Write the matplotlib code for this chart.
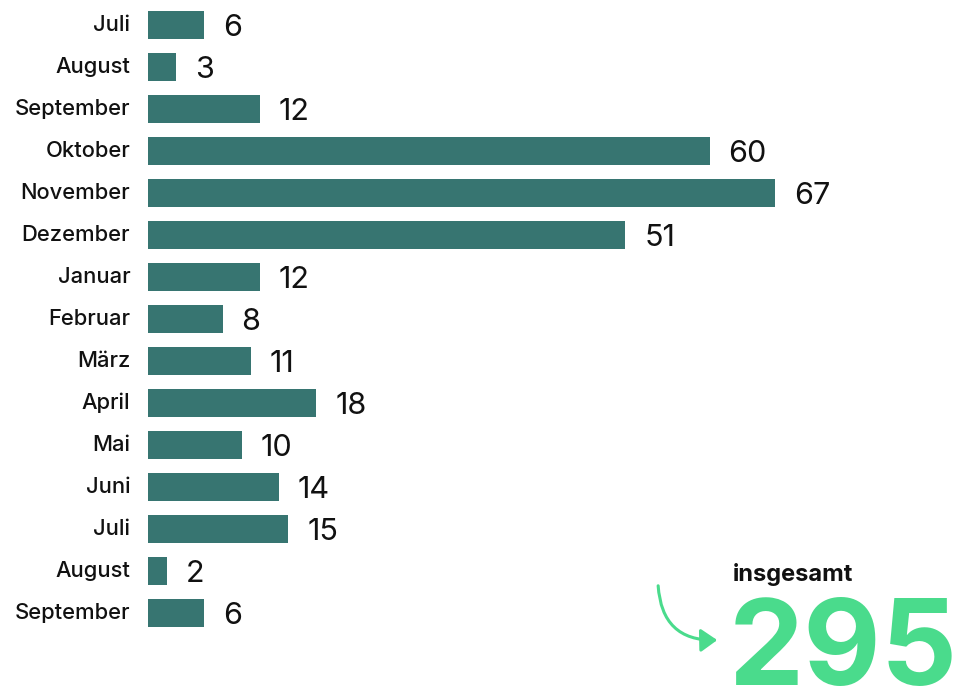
import matplotlib.pyplot as plt
from matplotlib.patches import FancyArrowPatch

months = ["Juli", "August", "September", "Oktober", "November", "Dezember",
          "Januar", "Februar", "März", "April", "Mai", "Juni", "Juli",
          "August", "September"]
counts = [6, 3, 12, 60, 67, 51, 12, 8, 11, 18, 10, 14, 15, 2, 6]
total_label = "insgesamt"

BAR = "#377571"
GREEN = "#4ADB8C"

plt.rcParams["font.family"] = ["Inter", "DejaVu Sans"]

W, H = 955, 688
fig = plt.figure(figsize=(W / 100, H / 100), dpi=100)
x0 = 148
ax = fig.add_axes([x0 / W, 0, (W - x0) / W, 1])

scale = 9.36  # px per unit
ax.set_xlim(0, (W - x0) / scale)
ax.set_ylim((H - 25) / 42, -25 / 42)

ypos = list(range(len(months)))
ax.barh(ypos, counts, height=0.69, color=BAR)
for y, v in zip(ypos, counts):
    ax.text(v + 2.0, y + 0.06, str(v), va="center", ha="left", fontsize=22,
            color="#111111")
    ax.text(-1.9, y, months[y], va="center", ha="right", fontsize=15.8,
            fontweight="medium", color="#111111")
ax.axis("off")

fig.text(733 / W, 1 - 575 / H, total_label, ha="left", va="center",
         fontsize=17, fontweight="bold", color="#111111")
fig.text(729 / W, 1 - 685 / H, str(sum(counts)), ha="left", va="baseline",
         fontsize=86, fontweight="bold", color=GREEN)

arrow = FancyArrowPatch((658, H - 583), (720, H - 640),
                        connectionstyle="arc3,rad=0.5",
                        arrowstyle="-|>,head_length=10,head_width=7",
                        color=GREEN, lw=2.2, transform=None)
fig.patches.append(arrow)

fig.savefig("out.png", dpi=100)
